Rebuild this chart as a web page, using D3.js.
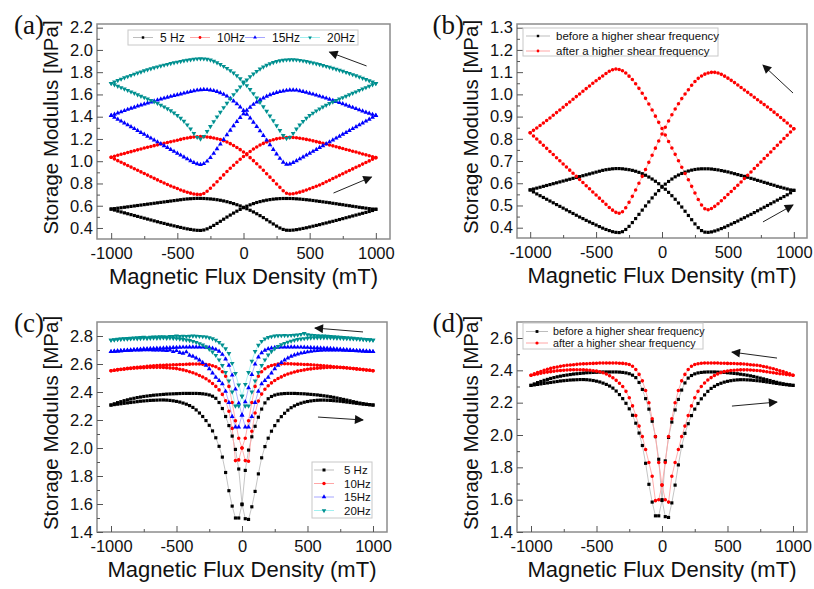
<!DOCTYPE html>
<html>
<head>
<meta charset="utf-8">
<script src="https://cdn.jsdelivr.net/npm/d3@7"></script>
<style>
  body { margin: 0; background: #fff; }
  svg { display: block; font-family: "Liberation Sans", Arial, sans-serif; }
</style>
</head>
<body>
<div id="chart"></div>
<script>
/*******************************/
/*    Data   */
/*******************************/
// Field sweep points (mT), shared by every branch
const field = [
  -1000, -975, -950, -925, -900, -875, -850, -825,
  -800, -775, -750, -725, -700, -675, -650, -625,
  -600, -575, -550, -525, -500, -475, -450, -425,
  -400, -375, -350, -325, -300, -275, -250, -225,
  -200, -175, -150, -125, -100, -75, -50, -25,
  0, 25, 50, 75, 100, 125, 150, 175,
  200, 225, 250, 275, 300, 325, 350, 375,
  400, 425, 450, 475, 500, 525, 550, 575,
  600, 625, 650, 675, 700, 725, 750, 775,
  800, 825, 850, 875, 900, 925, 950, 975,
  1000
];

const xTicks = [-1000, -500, 0, 500, 1000];
const yTicksA = [0.4, 0.6, 0.8, 1.0, 1.2, 1.4, 1.6, 1.8, 2.0, 2.2];
const yTicksB = [0.4, 0.5, 0.6, 0.7, 0.8, 0.9, 1.0, 1.1, 1.2, 1.3];
const yTicksC = [1.4, 1.6, 1.8, 2.0, 2.2, 2.4, 2.6, 2.8];
const yTicksD = [1.4, 1.6, 1.8, 2.0, 2.2, 2.4, 2.6];

const freqNames = ["5 Hz", "10Hz", "15Hz", "20Hz"];
const shearNames = ["before a higher shear frequency", "after a higher shear frequency"];

// (a) storage modulus, "up" = sweep -1000 -> 1000, "down" = sweep 1000 -> -1000 (both listed by field)
const a5Up = [
  0.570,0.574,0.578,0.582,0.586,0.590,0.594,0.598,
  0.602,0.606,0.610,0.614,0.618,0.622,0.626,0.630,
  0.634,0.638,0.642,0.646,0.650,0.654,0.658,0.661,
  0.663,0.665,0.666,0.666,0.665,0.663,0.661,0.658,
  0.654,0.649,0.643,0.636,0.628,0.619,0.609,0.598,
  0.586,0.573,0.559,0.544,0.528,0.511,0.493,0.474,
  0.455,0.436,0.417,0.400,0.387,0.380,0.379,0.381,
  0.385,0.390,0.396,0.402,0.409,0.416,0.423,0.430,
  0.438,0.445,0.453,0.460,0.468,0.476,0.484,0.492,
  0.500,0.508,0.516,0.524,0.532,0.540,0.548,0.557,
  0.568
];
const a5Down = [
  0.570,0.561,0.552,0.544,0.536,0.528,0.520,0.512,
  0.504,0.496,0.488,0.480,0.472,0.464,0.456,0.448,
  0.441,0.433,0.426,0.419,0.412,0.405,0.398,0.392,
  0.387,0.382,0.379,0.378,0.382,0.392,0.406,0.423,
  0.441,0.460,0.479,0.498,0.516,0.534,0.551,0.567,
  0.582,0.596,0.608,0.619,0.629,0.637,0.644,0.650,
  0.655,0.659,0.662,0.664,0.665,0.665,0.665,0.664,
  0.662,0.660,0.657,0.654,0.651,0.647,0.643,0.639,
  0.635,0.631,0.627,0.622,0.618,0.613,0.609,0.604,
  0.600,0.595,0.591,0.586,0.582,0.578,0.574,0.570,
  0.568
];
const a10Up = [
  1.035,1.044,1.053,1.062,1.070,1.078,1.086,1.094,
  1.102,1.110,1.118,1.126,1.133,1.140,1.147,1.154,
  1.161,1.168,1.175,1.182,1.189,1.196,1.203,1.209,
  1.214,1.218,1.220,1.221,1.220,1.218,1.214,1.209,
  1.202,1.194,1.184,1.172,1.158,1.142,1.124,1.104,
  1.082,1.058,1.032,1.005,0.977,0.948,0.918,0.888,
  0.857,0.826,0.795,0.765,0.734,0.712,0.706,0.708,
  0.714,0.722,0.731,0.741,0.752,0.763,0.775,0.787,
  0.800,0.815,0.829,0.844,0.858,0.873,0.887,0.902,
  0.916,0.931,0.945,0.960,0.974,0.989,1.003,1.018,
  1.032
];
const a10Down = [
  1.035,1.020,1.005,0.991,0.976,0.962,0.947,0.933,
  0.918,0.904,0.889,0.875,0.860,0.846,0.832,0.818,
  0.804,0.791,0.778,0.766,0.754,0.742,0.731,0.721,
  0.713,0.706,0.702,0.701,0.710,0.730,0.757,0.786,
  0.816,0.847,0.877,0.907,0.936,0.964,0.991,1.017,
  1.042,1.066,1.088,1.109,1.128,1.145,1.160,1.173,
  1.184,1.193,1.201,1.207,1.211,1.213,1.214,1.213,
  1.211,1.207,1.202,1.196,1.190,1.183,1.176,1.169,
  1.162,1.154,1.146,1.138,1.130,1.122,1.114,1.106,
  1.098,1.090,1.082,1.073,1.065,1.057,1.049,1.040,
  1.032
];
const a15Up = [
  1.410,1.421,1.432,1.443,1.454,1.465,1.475,1.485,
  1.495,1.505,1.514,1.523,1.532,1.541,1.550,1.558,
  1.566,1.574,1.582,1.590,1.597,1.604,1.611,1.618,
  1.626,1.633,1.638,1.642,1.644,1.643,1.640,1.634,
  1.626,1.615,1.601,1.584,1.564,1.541,1.515,1.486,
  1.455,1.422,1.387,1.350,1.312,1.272,1.231,1.189,
  1.147,1.105,1.064,1.025,0.990,0.972,0.975,0.988,
  1.003,1.020,1.037,1.054,1.071,1.088,1.105,1.122,
  1.139,1.156,1.173,1.190,1.207,1.224,1.241,1.258,
  1.275,1.292,1.309,1.326,1.343,1.360,1.377,1.394,
  1.410
];
const a15Down = [
  1.410,1.394,1.377,1.360,1.343,1.326,1.309,1.292,
  1.275,1.258,1.241,1.224,1.207,1.190,1.173,1.156,
  1.139,1.122,1.105,1.088,1.071,1.054,1.037,1.020,
  1.003,0.988,0.976,0.970,0.978,1.000,1.032,1.070,
  1.111,1.153,1.195,1.237,1.278,1.318,1.356,1.392,
  1.426,1.457,1.485,1.510,1.532,1.551,1.568,1.583,
  1.596,1.607,1.617,1.625,1.631,1.636,1.639,1.640,
  1.638,1.633,1.626,1.618,1.610,1.602,1.593,1.584,
  1.575,1.566,1.556,1.546,1.536,1.526,1.516,1.505,
  1.494,1.483,1.472,1.461,1.450,1.440,1.430,1.420,
  1.410
];
const a20Up = [
  1.700,1.713,1.726,1.738,1.750,1.761,1.772,1.783,
  1.793,1.803,1.813,1.822,1.831,1.840,1.848,1.856,
  1.864,1.871,1.878,1.885,1.891,1.897,1.903,1.908,
  1.913,1.917,1.920,1.921,1.920,1.917,1.910,1.899,
  1.886,1.870,1.853,1.835,1.815,1.793,1.768,1.741,
  1.712,1.680,1.645,1.608,1.570,1.530,1.490,1.449,
  1.407,1.364,1.320,1.276,1.232,1.205,1.215,1.250,
  1.290,1.326,1.358,1.386,1.411,1.433,1.453,1.471,
  1.488,1.504,1.519,1.533,1.546,1.559,1.572,1.585,
  1.598,1.611,1.624,1.637,1.650,1.662,1.674,1.687,
  1.699
];
const a20Down = [
  1.700,1.687,1.674,1.662,1.650,1.637,1.624,1.611,
  1.598,1.585,1.572,1.560,1.547,1.534,1.520,1.505,
  1.489,1.472,1.454,1.434,1.412,1.387,1.359,1.327,
  1.291,1.251,1.215,1.200,1.224,1.268,1.312,1.356,
  1.399,1.441,1.482,1.522,1.561,1.599,1.635,1.669,
  1.701,1.731,1.759,1.785,1.808,1.829,1.847,1.863,
  1.876,1.887,1.896,1.903,1.908,1.911,1.913,1.913,
  1.911,1.907,1.902,1.896,1.890,1.883,1.876,1.869,
  1.861,1.853,1.845,1.836,1.827,1.818,1.809,1.799,
  1.789,1.779,1.768,1.757,1.746,1.735,1.724,1.712,
  1.700
];

// (b) after a higher shear frequency (the "before" loop is the 5 Hz loop of (a))
const bAfterUp = [
  0.827,0.838,0.849,0.860,0.871,0.882,0.894,0.906,
  0.918,0.930,0.942,0.954,0.966,0.978,0.990,1.002,
  1.014,1.026,1.038,1.050,1.061,1.072,1.083,1.094,
  1.104,1.111,1.114,1.112,1.106,1.096,1.082,1.067,
  1.048,1.027,1.005,0.982,0.957,0.930,0.902,0.874,
  0.846,0.817,0.788,0.759,0.730,0.701,0.672,0.644,
  0.616,0.586,0.556,0.527,0.502,0.485,0.481,0.486,
  0.496,0.508,0.521,0.535,0.549,0.563,0.577,0.591,
  0.606,0.621,0.636,0.651,0.666,0.681,0.696,0.711,
  0.726,0.741,0.756,0.771,0.786,0.801,0.816,0.831,
  0.845
];
const bAfterDown = [
  0.827,0.813,0.799,0.785,0.771,0.757,0.743,0.729,
  0.715,0.701,0.687,0.673,0.659,0.645,0.631,0.617,
  0.603,0.589,0.575,0.561,0.547,0.533,0.519,0.505,
  0.491,0.479,0.469,0.465,0.472,0.490,0.514,0.541,
  0.570,0.600,0.631,0.662,0.694,0.726,0.758,0.790,
  0.822,0.852,0.880,0.908,0.934,0.958,0.981,1.002,
  1.021,1.041,1.058,1.072,1.083,1.091,1.096,1.099,
  1.099,1.096,1.090,1.082,1.073,1.063,1.053,1.042,
  1.031,1.020,1.009,0.998,0.987,0.976,0.965,0.954,
  0.943,0.932,0.920,0.908,0.896,0.883,0.871,0.858,
  0.845
];

// (c)
const c5Up = [
  2.307,2.316,2.324,2.331,2.338,2.344,2.350,2.355,
  2.360,2.364,2.368,2.371,2.374,2.377,2.379,2.381,
  2.383,2.385,2.386,2.387,2.388,2.389,2.390,2.390,
  2.390,2.390,2.390,2.389,2.387,2.384,2.379,2.370,
  2.355,2.325,2.282,2.225,2.160,2.085,1.990,1.850,
  1.600,1.495,1.490,1.580,1.690,1.815,1.930,2.010,
  2.070,2.120,2.160,2.195,2.224,2.248,2.270,2.288,
  2.301,2.312,2.320,2.327,2.332,2.336,2.339,2.341,
  2.342,2.342,2.341,2.340,2.338,2.336,2.334,2.331,
  2.328,2.325,2.322,2.319,2.316,2.313,2.311,2.309,
  2.307
];
const c5Down = [
  2.307,2.310,2.313,2.316,2.319,2.322,2.325,2.328,
  2.331,2.334,2.336,2.338,2.340,2.341,2.342,2.343,
  2.343,2.342,2.340,2.337,2.333,2.328,2.321,2.313,
  2.303,2.290,2.272,2.250,2.225,2.196,2.162,2.122,
  2.073,2.012,1.935,1.825,1.695,1.585,1.500,1.500,
  1.595,1.840,1.985,2.080,2.155,2.220,2.278,2.322,
  2.352,2.368,2.378,2.384,2.387,2.389,2.390,2.390,
  2.390,2.389,2.388,2.387,2.385,2.383,2.381,2.379,
  2.376,2.373,2.370,2.366,2.362,2.357,2.352,2.347,
  2.342,2.337,2.331,2.326,2.321,2.317,2.313,2.310,
  2.307
];
const c10Up = [
  2.552,2.556,2.560,2.563,2.566,2.569,2.572,2.575,
  2.577,2.579,2.581,2.583,2.585,2.587,2.589,2.590,
  2.591,2.592,2.593,2.594,2.595,2.596,2.597,2.598,
  2.599,2.600,2.600,2.600,2.599,2.597,2.594,2.588,
  2.580,2.566,2.545,2.512,2.440,2.325,2.195,2.070,
  2.000,1.910,1.905,2.120,2.250,2.335,2.385,2.420,
  2.445,2.465,2.482,2.496,2.508,2.519,2.528,2.536,
  2.543,2.549,2.554,2.558,2.562,2.565,2.568,2.570,
  2.572,2.574,2.575,2.576,2.576,2.576,2.575,2.574,
  2.572,2.570,2.568,2.565,2.563,2.560,2.557,2.555,
  2.552
];
const c10Down = [
  2.552,2.555,2.558,2.561,2.563,2.566,2.568,2.570,
  2.572,2.573,2.574,2.575,2.576,2.576,2.576,2.576,
  2.575,2.574,2.572,2.570,2.567,2.563,2.558,2.552,
  2.545,2.537,2.528,2.518,2.507,2.494,2.479,2.461,
  2.440,2.415,2.383,2.337,2.262,2.140,1.910,1.915,
  2.000,2.070,2.195,2.325,2.440,2.512,2.545,2.566,
  2.580,2.589,2.595,2.599,2.601,2.602,2.602,2.601,
  2.600,2.599,2.598,2.597,2.596,2.594,2.593,2.591,
  2.589,2.587,2.585,2.583,2.581,2.579,2.577,2.575,
  2.573,2.570,2.567,2.565,2.562,2.560,2.557,2.555,
  2.552
];
const c15Up = [
  2.688,2.690,2.692,2.694,2.696,2.698,2.700,2.702,
  2.704,2.706,2.708,2.709,2.710,2.711,2.712,2.713,
  2.714,2.715,2.716,2.717,2.718,2.719,2.720,2.720,
  2.721,2.721,2.721,2.721,2.720,2.719,2.717,2.712,
  2.704,2.690,2.668,2.635,2.590,2.520,2.420,2.320,
  2.235,2.150,2.150,2.225,2.325,2.405,2.458,2.482,
  2.505,2.535,2.565,2.590,2.610,2.628,2.642,2.655,
  2.664,2.671,2.677,2.682,2.686,2.690,2.693,2.696,
  2.698,2.699,2.700,2.700,2.700,2.700,2.699,2.698,
  2.697,2.696,2.695,2.694,2.693,2.692,2.691,2.690,
  2.688
];
const c15Down = [
  2.688,2.690,2.692,2.694,2.696,2.697,2.698,2.699,
  2.700,2.700,2.701,2.701,2.701,2.700,2.700,2.699,
  2.698,2.696,2.700,2.688,2.695,2.682,2.676,2.686,
  2.662,2.655,2.642,2.628,2.610,2.590,2.565,2.535,
  2.505,2.482,2.458,2.405,2.325,2.225,2.150,2.150,
  2.235,2.330,2.430,2.525,2.600,2.650,2.680,2.698,
  2.708,2.714,2.717,2.719,2.720,2.721,2.721,2.721,
  2.721,2.720,2.720,2.719,2.718,2.717,2.716,2.715,
  2.714,2.713,2.712,2.710,2.709,2.707,2.705,2.703,
  2.701,2.699,2.697,2.695,2.694,2.692,2.691,2.689,
  2.688
];
const c20Up = [
  2.771,2.774,2.777,2.779,2.781,2.783,2.785,2.787,
  2.788,2.790,2.791,2.789,2.792,2.794,2.793,2.795,
  2.796,2.794,2.797,2.798,2.801,2.797,2.799,2.798,
  2.799,2.800,2.799,2.798,2.796,2.793,2.788,2.781,
  2.770,2.755,2.736,2.710,2.676,2.605,2.533,2.450,
  2.370,2.300,2.300,2.400,2.480,2.540,2.590,2.630,
  2.665,2.690,2.710,2.725,2.738,2.748,2.757,2.764,
  2.770,2.775,2.779,2.782,2.784,2.786,2.787,2.788,
  2.788,2.788,2.788,2.787,2.786,2.785,2.784,2.783,
  2.782,2.781,2.780,2.779,2.777,2.776,2.774,2.772,
  2.771
];
const c20Down = [
  2.771,2.773,2.775,2.777,2.779,2.778,2.780,2.782,
  2.781,2.783,2.784,2.783,2.785,2.786,2.784,2.786,
  2.787,2.785,2.786,2.784,2.782,2.779,2.776,2.772,
  2.768,2.762,2.755,2.746,2.736,2.723,2.706,2.686,
  2.662,2.630,2.590,2.540,2.480,2.400,2.300,2.300,
  2.370,2.455,2.540,2.620,2.690,2.735,2.762,2.780,
  2.790,2.796,2.800,2.802,2.803,2.804,2.803,2.805,
  2.806,2.808,2.812,2.818,2.810,2.806,2.804,2.802,
  2.801,2.800,2.799,2.797,2.796,2.794,2.792,2.790,
  2.788,2.786,2.784,2.782,2.780,2.778,2.776,2.774,
  2.771
];

// (d) after a higher shear frequency (the "before" loop is the 5 Hz loop of (c))
const dAfterUp = [
  2.370,2.378,2.386,2.393,2.400,2.406,2.412,2.417,
  2.421,2.425,2.428,2.431,2.433,2.435,2.437,2.439,
  2.440,2.441,2.442,2.443,2.444,2.445,2.445,2.445,
  2.445,2.445,2.445,2.444,2.443,2.440,2.436,2.425,
  2.405,2.375,2.335,2.275,2.200,2.100,1.990,1.830,
  1.690,1.600,1.585,1.745,1.830,1.910,1.990,2.055,
  2.120,2.180,2.230,2.270,2.300,2.322,2.340,2.355,
  2.368,2.378,2.386,2.392,2.396,2.399,2.401,2.402,
  2.403,2.403,2.403,2.402,2.401,2.399,2.397,2.394,
  2.391,2.388,2.385,2.382,2.379,2.377,2.375,2.372,
  2.370
];
const dAfterDown = [
  2.370,2.374,2.378,2.382,2.386,2.389,2.392,2.395,
  2.397,2.399,2.401,2.402,2.403,2.404,2.404,2.404,
  2.403,2.402,2.400,2.398,2.395,2.391,2.385,2.377,
  2.367,2.354,2.338,2.320,2.300,2.270,2.230,2.180,
  2.120,2.055,1.990,1.910,1.830,1.745,1.594,1.600,
  1.690,1.830,1.990,2.100,2.200,2.275,2.335,2.375,
  2.405,2.425,2.436,2.441,2.444,2.445,2.445,2.445,
  2.445,2.445,2.444,2.444,2.443,2.442,2.442,2.441,
  2.440,2.439,2.437,2.435,2.433,2.431,2.428,2.424,
  2.420,2.415,2.410,2.404,2.398,2.392,2.385,2.378,
  2.370
];

/*******************************/
/*         Chart setup         */
/*******************************/
const width = 814, height = 589;
const markColor = { black: "#000000", red: "#ff0000", blue: "#0000ff", teal: "#008f8f" };
const lineColor = { black: "#bdbdbd", red: "#ffa6a6", blue: "#a6a6ff", teal: "#a0f0f0" };
const symbolType = { black: d3.symbolSquare, red: d3.symbolCircle, blue: d3.symbolTriangle, teal: d3.symbolTriangle };

const panels = [
  {
    label: "(a)", frame: [97, 24, 390, 239], xDomain: [-1107, 1107], yDomain: [0.301, 2.233],
    yTicks: yTicksA, markSize: 10,
    series: [
      { name: freqNames[0], up: a5Up, down: a5Down, color: "black" },
      { name: freqNames[1], up: a10Up, down: a10Down, color: "red" },
      { name: freqNames[2], up: a15Up, down: a15Down, color: "blue" },
      { name: freqNames[3], up: a20Up, down: a20Down, color: "teal" }
    ],
    legend: { box: [128, 30, 230, 15], font: 12, markSize: 6, horizontal: [133, 190, 245, 300], rowY: 37.5, seg: 20, gap: 7 },
    arrows: [[930, 1.856, 650, 1.98], [680, 0.714, 967, 0.858]]
  },
  {
    label: "(b)", frame: [517, 24, 807, 238], xDomain: [-1100, 1100], yDomain: [0.3536, 1.3167],
    yTicks: yTicksB, markSize: 10,
    series: [
      { name: shearNames[0], up: a5Up, down: a5Down, color: "black" },
      { name: shearNames[1], up: bAfterUp, down: bAfterDown, color: "red" }
    ],
    legend: { box: [523, 28, 195, 28], font: 11.5, markSize: 6, x: 526, rows: [36, 51], seg: 24, gap: 6 },
    arrows: [[994, 1.006, 766, 1.132], [766, 0.426, 994, 0.502]]
  },
  {
    label: "(c)", frame: [97, 322, 387, 532], xDomain: [-1107, 1107], yDomain: [1.4, 2.9],
    yTicks: yTicksC, markSize: 10,
    series: [
      { name: freqNames[0], up: c5Up, down: c5Down, color: "black" },
      { name: freqNames[1], up: c10Up, down: c10Down, color: "red" },
      { name: freqNames[2], up: c15Up, down: c15Down, color: "blue" },
      { name: freqNames[3], up: c20Up, down: c20Down, color: "teal" }
    ],
    legend: { box: [312, 462, 60, 56], font: 11.5, markSize: 9, x: 314, rows: [470, 483.5, 497, 510.5], seg: 20, gap: 10 },
    arrows: [[924, 2.829, 557, 2.857], [580, 2.221, 924, 2.2]]
  },
  {
    label: "(d)", frame: [517, 322, 807, 532], xDomain: [-1107, 1107], yDomain: [1.4, 2.699],
    yTicks: yTicksD, markSize: 10,
    series: [
      { name: shearNames[0], up: c5Up, down: c5Down, color: "black" },
      { name: shearNames[1], up: dAfterUp, down: dAfterDown, color: "red" }
    ],
    legend: { box: [523, 323, 180, 26], font: 10.7, markSize: 8, x: 526, rows: [331.5, 343], seg: 22, gap: 5 },
    arrows: [[878, 2.476, 534, 2.513], [534, 2.179, 878, 2.204]]
  }
];

/*******************************/
/*    Append the containers    */
/*******************************/
const svg = d3.select("#chart")
  .append("svg")
    .attr("width", width)
    .attr("height", height)
    .attr("viewBox", `0 0 ${width} ${height}`);

svg.append("rect").attr("width", width).attr("height", height).attr("fill", "#fff");

svg.append("defs")
  .append("marker")
    .attr("id", "arrowhead")
    .attr("viewBox", "0 0 10 10")
    .attr("refX", 9).attr("refY", 5)
    .attr("markerWidth", 11).attr("markerHeight", 9)
    .attr("markerUnits", "userSpaceOnUse")
    .attr("orient", "auto")
  .append("path")
    .attr("d", "M0,0 L10,5 L0,10 Z")
    .attr("fill", "#111");

const markPath = (color, size) => d3.symbol().type(symbolType[color]).size(size)();

const drawPanel = (p, idx) => {
  const [x0, y0, x1, y1] = p.frame;
  const xScale = d3.scaleLinear().domain(p.xDomain).range([x0, x1]);
  const yScale = d3.scaleLinear().domain(p.yDomain).range([y1, y0]);
  const g = svg.append("g").attr("class", "panel");

  g.append("defs").append("clipPath").attr("id", `clip${idx}`)
    .append("rect").attr("x", x0).attr("y", y0).attr("width", x1 - x0).attr("height", y1 - y0);

  const plot = g.append("g").attr("clip-path", `url(#clip${idx})`);

  // Connecting lines of every loop (up sweep, then down sweep back)
  const lineGen = d3.line().x(d => xScale(d[0])).y(d => yScale(d[1]));
  p.series.forEach(s => {
    const pts = field.map((f, i) => [f, s.up[i]])
      .concat(field.map((f, i) => [f, s.down[i]]).reverse());
    plot.append("path")
      .attr("d", lineGen(pts))
      .attr("fill", "none")
      .attr("stroke", lineColor[s.color])
      .attr("stroke-width", 0.9);
  });

  // Markers
  p.series.forEach(s => {
    const pts = field.map((f, i) => [f, s.up[i]])
      .concat(field.map((f, i) => [f, s.down[i]]));
    const rot = s.color === "teal" ? " rotate(180)" : "";
    plot.append("g")
      .selectAll("path")
      .data(pts)
      .join("path")
        .attr("d", markPath(s.color, p.markSize))
        .attr("transform", d => `translate(${xScale(d[0])},${yScale(d[1])})${rot}`)
        .attr("fill", markColor[s.color]);
  });

  // Frame
  g.append("rect")
    .attr("x", x0).attr("y", y0)
    .attr("width", x1 - x0).attr("height", y1 - y0)
    .attr("fill", "none")
    .attr("stroke", "#8c8c8c")
    .attr("stroke-width", 1.5);

  // Minor ticks: half way between majors
  const xStep = xTicks[1] - xTicks[0];
  const xMinor = xTicks.map(t => t + xStep / 2).concat([xTicks[0] - xStep / 2])
    .filter(t => t > p.xDomain[0] && t < p.xDomain[1]);
  const yStep = p.yTicks[1] - p.yTicks[0];
  const yMinor = p.yTicks.map(t => t + yStep / 2).concat([p.yTicks[0] - yStep / 2])
    .filter(t => t > p.yDomain[0] && t < p.yDomain[1]);

  const styleAxis = sel => {
    sel.select(".domain").remove();
    sel.selectAll("line").attr("stroke", "#555").attr("stroke-width", 1);
    sel.selectAll("text").attr("font-size", 16.5).attr("fill", "#111")
      .attr("font-family", '"Liberation Sans", Arial, sans-serif');
  };

  g.append("g")
    .attr("transform", `translate(0,${y1})`)
    .call(d3.axisBottom(xScale).tickValues(xTicks).tickSize(-6).tickPadding(8).tickFormat(d => String(d)))
    .call(styleAxis);
  g.append("g")
    .attr("transform", `translate(0,${y1})`)
    .call(d3.axisBottom(xScale).tickValues(xMinor).tickSize(-3).tickFormat(""))
    .call(styleAxis);
  g.append("g")
    .attr("transform", `translate(${x0},0)`)
    .call(d3.axisLeft(yScale).tickValues(p.yTicks).tickSize(-6).tickPadding(4).tickFormat(d3.format(".1f")))
    .call(styleAxis);
  g.append("g")
    .attr("transform", `translate(${x0},0)`)
    .call(d3.axisLeft(yScale).tickValues(yMinor).tickSize(-3).tickFormat(""))
    .call(styleAxis);

  // Axis titles
  g.append("text")
    .attr("x", (x0 + x1) / 2)
    .attr("y", y1 + 45)
    .attr("text-anchor", "middle")
    .attr("font-size", 22)
    .attr("fill", "#111")
    .text("Magnetic Flux Density (mT)");
  g.append("text")
    .attr("transform", `translate(${x0 - 39},${(y0 + y1) / 2 - 4}) rotate(-90)`)
    .attr("text-anchor", "middle")
    .attr("font-size", 20.5)
    .attr("fill", "#111")
    .text("Storage Modulus [MPa]");

  // Panel label
  g.append("text")
    .attr("x", x0 - 53)
    .attr("y", y0 + 10)
    .attr("text-anchor", "end")
    .attr("font-family", '"Liberation Serif", "DejaVu Serif", serif')
    .attr("font-size", 27)
    .attr("fill", "#111")
    .text(p.label);

  // Direction arrows
  p.arrows.forEach(a => {
    g.append("line")
      .attr("x1", xScale(a[0])).attr("y1", yScale(a[1]))
      .attr("x2", xScale(a[2])).attr("y2", yScale(a[3]))
      .attr("stroke", "#222")
      .attr("stroke-width", 1)
      .attr("marker-end", "url(#arrowhead)");
  });

  // Legend
  const L = p.legend;
  const lg = g.append("g").attr("font-size", L.font).attr("fill", "#111");
  lg.append("rect")
    .attr("x", L.box[0]).attr("y", L.box[1])
    .attr("width", L.box[2]).attr("height", L.box[3])
    .attr("fill", "#fff")
    .attr("stroke", "#c8c8c8")
    .attr("stroke-width", 1);
  p.series.forEach((s, i) => {
    const lx = L.horizontal ? L.horizontal[i] : L.x;
    const ly = L.horizontal ? L.rowY : L.rows[i];
    lg.append("line")
      .attr("x1", lx).attr("x2", lx + L.seg)
      .attr("y1", ly).attr("y2", ly)
      .attr("stroke", lineColor[s.color])
      .attr("stroke-width", 1);
    const rot = s.color === "teal" ? " rotate(180)" : "";
    lg.append("path")
      .attr("d", markPath(s.color, L.markSize))
      .attr("transform", `translate(${lx + L.seg / 2},${ly})${rot}`)
      .attr("fill", markColor[s.color]);
    lg.append("text")
      .attr("x", lx + L.seg + L.gap)
      .attr("y", ly)
      .attr("dy", "0.35em")
      .text(s.name);
  });
};

[a5Up, a5Down, a10Up, a10Down, a15Up, a15Down, a20Up, a20Down, bAfterUp, bAfterDown,
 c5Up, c5Down, c10Up, c10Down, c15Up, c15Down, c20Up, c20Down, dAfterUp, dAfterDown]
  .forEach((arr, i) => { if (arr.length !== field.length) throw new Error("length mismatch in series " + i + ": " + arr.length); });

panels.forEach(drawPanel);
</script>
</body>
</html>
